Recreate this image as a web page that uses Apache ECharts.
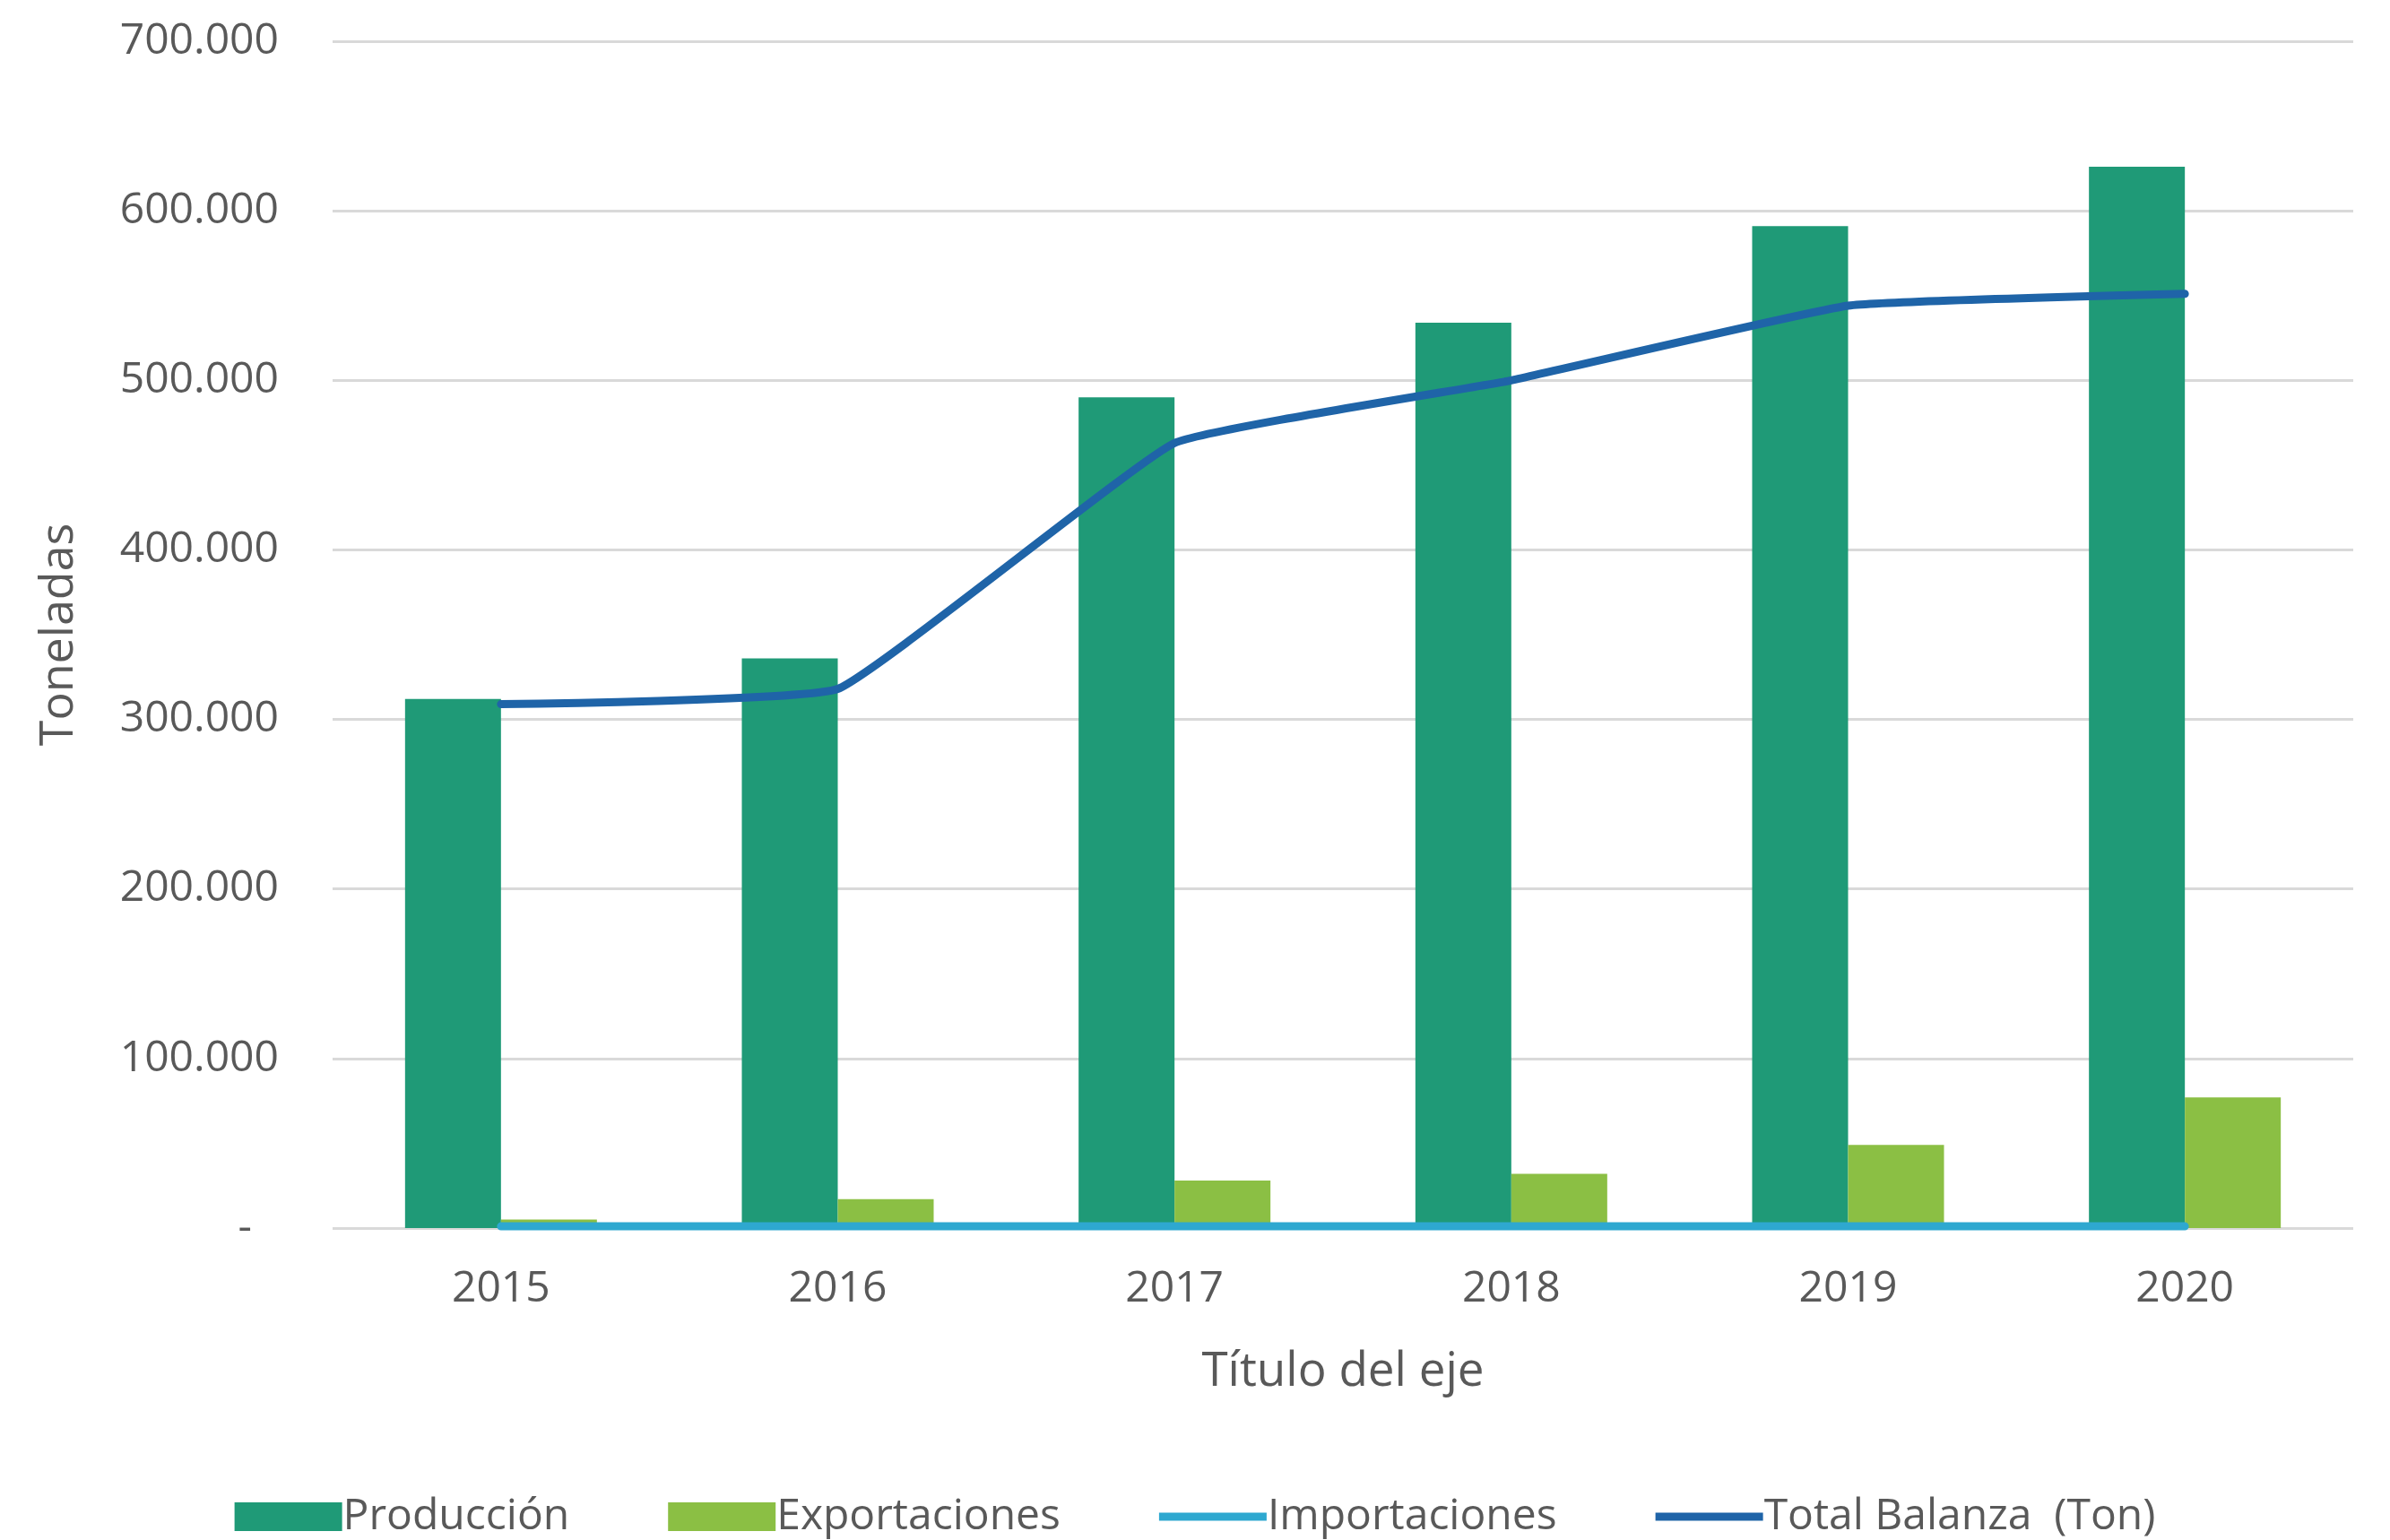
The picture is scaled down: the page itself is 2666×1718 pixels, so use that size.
<!DOCTYPE html>
<html>
<head>
<meta charset="utf-8">
<script src="https://cdn.jsdelivr.net/npm/echarts@6/dist/echarts.min.js"></script>
<style>
html,body{margin:0;padding:0;background:#fff;}
#chart{width:2666px;height:1718px;}
</style>
</head>
<body>
<div id="chart"></div>
<script>
var years = ['2015','2016','2017','2018','2019','2020'];
var produccion = [312000, 336000, 490000, 534000, 591000, 626000];
var exportaciones = [5000, 17000, 28000, 32000, 49000, 77000];
var importaciones = [1000, 1000, 1000, 1000, 1000, 1000];
var totalBalanza = [309000, 318000, 463000, 500000, 544000, 551000];

var FONT = '"Open Sans", "Noto Sans", sans-serif';
var TXT = '#595959';

function fmt(v){
  if (v === 0) return '{d|-}';
  return String(v).replace(/\B(?=(\d{3})+(?!\d))/g, '.');
}

var LINE_ICON = 'path://M0,0 L120,0 L120,9 L0,9 Z';

var chart = echarts.init(document.getElementById('chart'));
chart.setOption({
  animation: false,
  backgroundColor: '#ffffff',
  textStyle: { fontFamily: FONT, color: TXT },
  grid: { left: 371, right: 41, top: 46, bottom: 348, containLabel: false },
  legend: {
    top: 1663,
    left: 'center',
    itemWidth: 120,
    itemHeight: 32,
    itemGap: 110,
    symbolKeepAspect: true,
    textStyle: { fontFamily: FONT, fontSize: 48, color: TXT, padding: [0,0,0,-4] },
    data: [
      { name: 'Producción', icon: 'rect' },
      { name: 'Exportaciones', icon: 'rect' },
      { name: 'Importaciones', icon: LINE_ICON },
      { name: 'Total Balanza  (Ton)', icon: LINE_ICON }
    ]
  },
  xAxis: {
    type: 'category',
    data: years,
    axisLine: { show: false },
    axisTick: { show: false },
    axisLabel: { fontFamily: FONT, fontSize: 48, color: TXT, margin: 44 },
    name: 'Título del eje',
    nameLocation: 'middle',
    nameGap: 134,
    nameTextStyle: { fontFamily: FONT, fontSize: 53, color: TXT }
  },
  yAxis: {
    type: 'value',
    min: 0,
    max: 700000,
    interval: 100000,
    axisLine: { show: false },
    axisTick: { show: false },
    splitLine: { lineStyle: { color: '#d9d9d9', width: 3 } },
    axisLabel: {
      fontFamily: FONT, fontSize: 48, color: TXT, margin: 60,
      formatter: fmt,
      rich: { d: { fontFamily: FONT, fontSize: 48, color: TXT, padding: [0, 30, 0, 0] } }
    },
    name: 'Toneladas',
    nameLocation: 'middle',
    nameGap: 279,
    nameRotate: 90,
    nameTextStyle: { fontFamily: FONT, fontSize: 52, color: TXT }
  },
  series: [
    {
      name: 'Producción', type: 'bar', data: produccion,
      barWidth: 107, barGap: '0%',
      itemStyle: { color: '#1f9a77' }
    },
    {
      name: 'Exportaciones', type: 'bar', data: exportaciones,
      barWidth: 107, barGap: '0%',
      itemStyle: { color: '#8bbf44' }
    },
    {
      name: 'Importaciones', type: 'line', data: importaciones,
      symbol: 'none', showSymbol: false,
      lineStyle: { color: '#2ea8d0', width: 9, cap: 'round' },
      itemStyle: { color: '#2ea8d0' },
      z: 5
    },
    {
      name: 'Total Balanza  (Ton)', type: 'line', data: totalBalanza,
      symbol: 'none', showSymbol: false, smooth: 0.1,
      lineStyle: { color: '#1f64a8', width: 9, cap: 'round' },
      itemStyle: { color: '#1f64a8' },
      z: 6
    }
  ]
});
</script>
</body>
</html>
